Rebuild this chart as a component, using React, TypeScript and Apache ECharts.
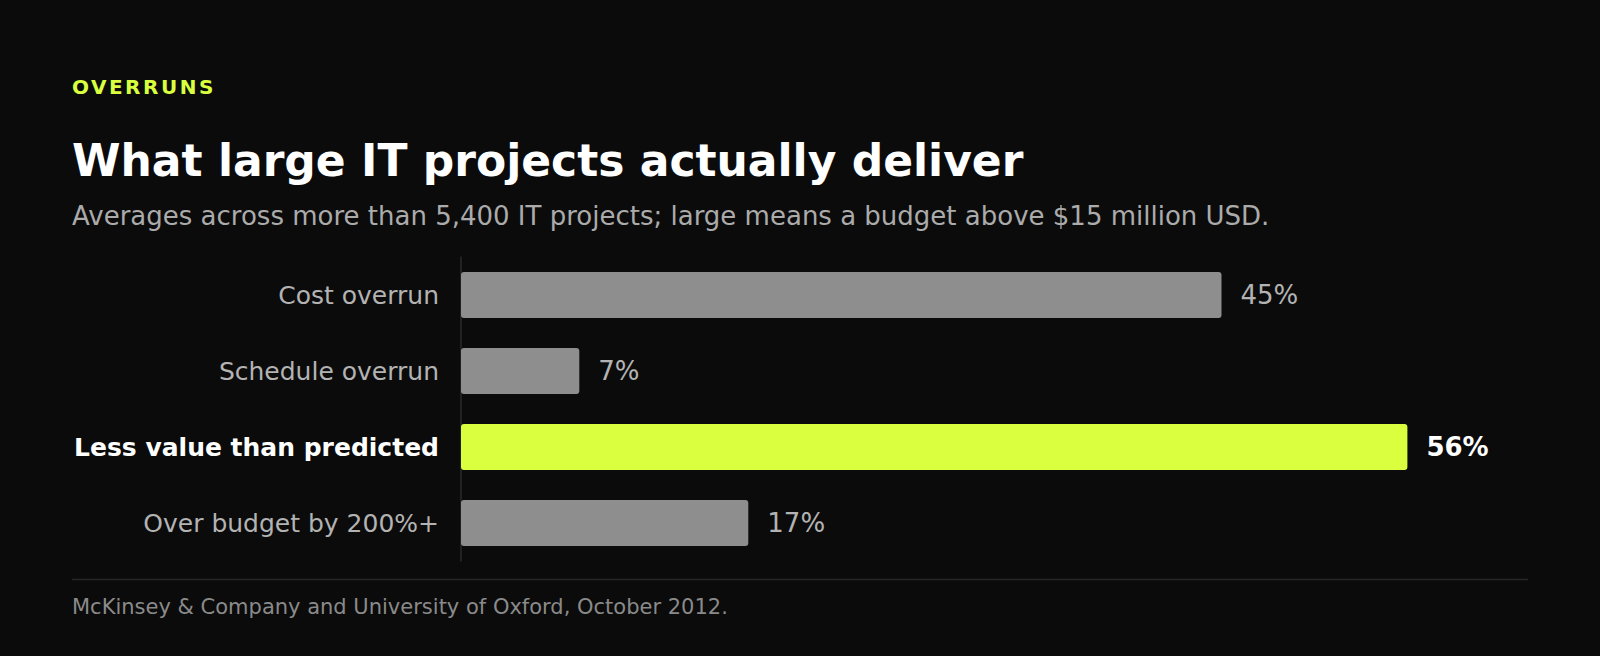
import React, { useEffect, useRef } from 'react';
import * as echarts from 'echarts';

// data
const categories = ['Cost overrun', 'Schedule overrun', 'Less value than predicted', 'Over budget by 200%+'];
const values = [45, 7, 56, 17];
const highlightIndex = 2;

const FONT = '"DejaVu Sans", Verdana, sans-serif';
const BG = '#0b0b0b';
const LIME = '#d9ff3f';

const App: React.FC = () => {
  const chartRef = useRef<HTMLDivElement | null>(null);

  useEffect(() => {
    document.body.style.margin = '0';
    document.body.style.background = BG;
    if (!chartRef.current) return;
    const chart = echarts.init(chartRef.current, null, { renderer: 'svg' });

    const option: echarts.EChartsOption = {
      animation: false,
      backgroundColor: BG,
      textStyle: { fontFamily: FONT },
      grid: { left: 461, top: 257, width: 1014, height: 304, containLabel: false },
      xAxis: {
        type: 'value',
        min: 0,
        max: 60,
        show: false,
      },
      yAxis: {
        type: 'category',
        inverse: true,
        data: categories,
        axisTick: { show: false },
        axisLine: { show: true, lineStyle: { color: '#2a2a2a', width: 1.5 } },
        splitLine: { show: false },
        axisLabel: {
          margin: 22,
          fontSize: 25,
          color: '#b3b3b3',
          fontFamily: FONT,
          formatter: (v: string, i: number) => (i === highlightIndex ? `{hl|${v}}` : v),
          rich: {
            hl: { fontSize: 25, fontWeight: 'bold', color: '#ffffff', fontFamily: FONT },
          },
        },
      },
      series: [
        {
          type: 'bar',
          barWidth: 46,
          data: values.map((v, i) => ({
            value: v,
            itemStyle: { color: i === highlightIndex ? LIME : '#8e8e8e', borderRadius: 3 },
            label: i === highlightIndex
              ? { color: '#ffffff', fontWeight: 'bold' }
              : { color: '#b3b3b3' },
          })),
          label: {
            show: true,
            position: 'right',
            distance: 19,
            fontSize: 26,
            fontFamily: FONT,
            formatter: '{c}%',
          },
        },
      ],
      graphic: [
        {
          type: 'text',
          left: 72,
          top: 138,
          style: {
            text: 'What large IT projects actually deliver',
            font: `bold 44px ${FONT}`,
            fill: '#ffffff',
          },
        },
        {
          type: 'text',
          left: 72,
          top: 203,
          style: {
            text: 'Averages across more than 5,400 IT projects; large means a budget above $15 million USD.',
            font: `26px ${FONT}`,
            fill: '#ababab',
          },
        },
        {
          type: 'line',
          shape: { x1: 72, y1: 579.5, x2: 1528, y2: 579.5 },
          style: { stroke: '#262626', lineWidth: 1.5 },
        },
        {
          type: 'text',
          left: 72,
          top: 596,
          style: {
            text: 'McKinsey & Company and University of Oxford, October 2012.',
            font: `21px ${FONT}`,
            fill: '#8a8a8a',
          },
        },
      ],
    };

    chart.setOption(option);
    return () => {
      chart.dispose();
    };
  }, []);

  return (
    <div style={{ position: 'relative', width: 1600, height: 656, background: BG }}>
      <div ref={chartRef} style={{ position: 'absolute', left: 0, top: 0, width: 1600, height: 656 }} />
      <div
        style={{
          position: 'absolute',
          left: 72,
          top: 77,
          fontFamily: FONT,
          fontSize: 20,
          lineHeight: '20px',
          fontWeight: 'bold',
          letterSpacing: '2.5px',
          color: LIME,
        }}
      >
        OVERRUNS
      </div>
    </div>
  );
};

export default App;
